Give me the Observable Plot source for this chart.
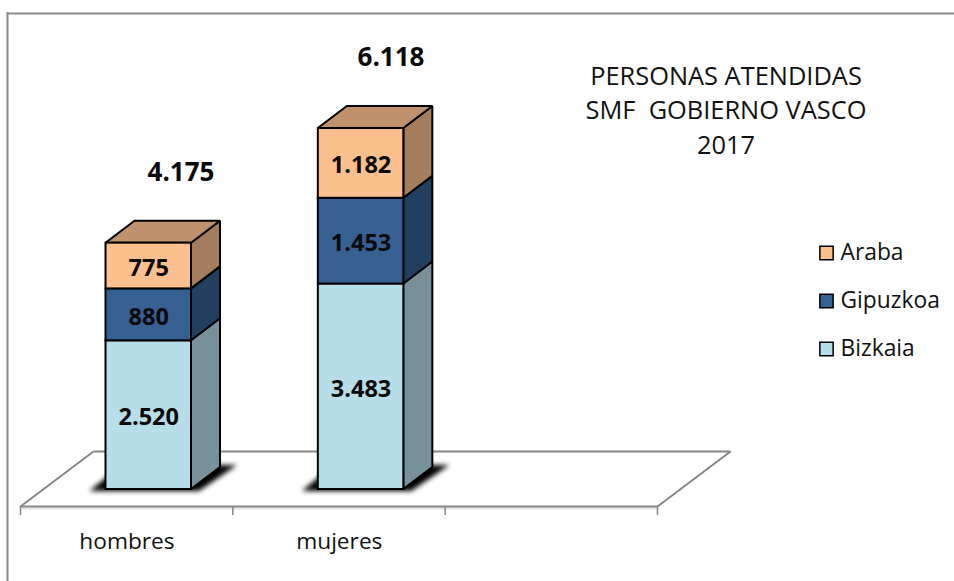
<!DOCTYPE html>
<html lang="es">
<head>
<meta charset="utf-8">
<style>html,body{margin:0;padding:0;background:#fff}svg{display:block}</style>
<script src="https://cdn.jsdelivr.net/npm/d3@7"></script>
<script src="https://cdn.jsdelivr.net/npm/@observablehq/plot@0.6"></script>
</head>
<body>
<div id="chart"></div>
<script>
// --- Data ---
const categories = ["hombres", "mujeres"];
const seriesNames = ["Bizkaia", "Gipuzkoa", "Araba"];
const bizkaia = [2520, 3483];
const gipuzkoa = [880, 1453];
const araba = [775, 1182];
const titleLines = ["PERSONAS ATENDIDAS", "SMF  GOBIERNO VASCO", "2017"];
const legendOrder = ["Araba", "Gipuzkoa", "Bizkaia"];

// --- Styles ---
const frontColors = ["#b7dde8", "#376092", "#fcc08f"];
const sideColors = ["#77909a", "#233f5f", "#a37d5d"];
const topColors = ["#bf926d"];
const font = "'Open Sans', sans-serif";

// --- Layout in scale units: category slots on x, persons on y ---
const width = 954, height = 581;
const slotPx = 212.33, unitPx = 0.059;
const xDomain = [-20 / slotPx, (width - 20) / slotPx];
const yDomain = [-(height - 489) / unitPx, 489 / unitPx];
const px = (p) => (p - 20) / slotPx;     // layout pixel → x units
const py = (p) => (489 - p) / unitPx;    // layout pixel → y units
const barLeft = px(105.5), barWidth = px(191) - px(105.5);
const depthX = 29 / slotPx, depthY = 22 / unitPx;
const floorSlots = 3;

const values = [bizkaia, gipuzkoa, araba];
const segments = [];
categories.forEach((c, i) => {
  let base = 0;
  values.forEach((v, s) => {
    segments.push({cat: c, i, s, series: seriesNames[s], value: v[i], y0: base, y1: base + v[i],
      x0: barLeft + i, x1: barLeft + i + barWidth});
    base += v[i];
  });
});
const totals = categories.map((c, i) => ({cat: c, i, total: d3.sum(values, (v) => v[i])}));
const fmt = d3.formatLocale({decimal: ",", thousands: ".", grouping: [3], currency: ["", "€"]}).format(",d");

// A quad as two rows for Plot.area
const quad = (id, color, a, b, c, d) => [
  {id, color, x1: a[0], y1: a[1], x2: d[0], y2: d[1]},
  {id, color, x1: b[0], y1: b[1], x2: c[0], y2: c[1]}
];
const sideFaces = segments.flatMap((d) => quad(`side-${d.i}-${d.s}`, sideColors[d.s],
  [d.x1, d.y0], [d.x1 + depthX, d.y0 + depthY], [d.x1 + depthX, d.y1 + depthY], [d.x1, d.y1]));
const topFaces = segments.filter((d) => d.s === values.length - 1).flatMap((d) => quad(`top-${d.i}`, topColors[0],
  [d.x0, d.y1], [d.x0 + depthX, d.y1 + depthY], [d.x1 + depthX, d.y1 + depthY], [d.x1, d.y1]));
const shadows = categories.flatMap((c, i) => quad(`shadow-${i}`, "#000",
  [barLeft + i - 16 / slotPx, py(491)], [barLeft + i + 16 / slotPx, py(465)],
  [barLeft + i + barWidth + 46 / slotPx, py(465)], [barLeft + i + barWidth + 8 / slotPx, py(491)]));

const floorFront = py(506), floorBack = py(451), tickEnd = py(515);
const floorOffset = px(93) - px(20);
const floorEdges = [
  {x1: 0, y1: floorFront, x2: floorSlots, y2: floorFront},
  {x1: floorOffset, y1: floorBack, x2: floorSlots + floorOffset, y2: floorBack},
  {x1: 0, y1: floorFront, x2: floorOffset, y2: floorBack},
  {x1: floorSlots, y1: floorFront, x2: floorSlots + floorOffset, y2: floorBack}
];
const tickPositions = d3.range(floorSlots + 1);

const titleRows = titleLines.map((t, i) => ({t, y: py([76, 110, 145][i])}));
const legendRows = legendOrder.map((name, i) => ({name, color: frontColors[seriesNames.indexOf(name)], y: py(252.5 + 48 * i)}));
const legendX = px(826), legendTextX = px(840), titleX = px(725.5);
const totalGap = 50 / unitPx, totalStep = 210 / slotPx;

const chart = Plot.plot({
  width, height,
  marginTop: 0, marginRight: 0, marginBottom: 0, marginLeft: 0,
  style: {background: "#fff", overflow: "visible"},
  x: {domain: xDomain, range: [0, width], axis: null},
  y: {domain: yDomain, range: [height, 0], axis: null},
  marks: [
    // outer frame (top and left edges visible)
    Plot.ruleY([py(13)], {x1: px(7), x2: px(954), stroke: "#8a8a8a", strokeWidth: 2}),
    Plot.ruleX([px(7)], {y1: py(12), y2: py(581), stroke: "#8a8a8a", strokeWidth: 2}),
    // floor
    Plot.ruleY([py(508)], {x1: 0, x2: floorSlots, stroke: "#e4e4e4", strokeWidth: 2}),
    Plot.link(floorEdges, {x1: "x1", y1: "y1", x2: "x2", y2: "y2", stroke: "#868686", strokeWidth: 2}),
    Plot.ruleX(tickPositions, {y1: floorFront, y2: tickEnd, stroke: "#868686", strokeWidth: 1.5}),
    // base shadows
    Plot.area(shadows, {x1: "x1", y1: "y1", x2: "x2", y2: "y2", z: "id", fill: "#000", imageFilter: "blur(2.5px)"}),
    // bars
    Plot.area(sideFaces, {x1: "x1", y1: "y1", x2: "x2", y2: "y2", z: "id",
      fill: {value: "color", scale: null}, stroke: "#000", strokeWidth: 2, strokeLinejoin: "miter"}),
    Plot.area(topFaces, {x1: "x1", y1: "y1", x2: "x2", y2: "y2", z: "id",
      fill: {value: "color", scale: null}, stroke: "#000", strokeWidth: 2, strokeLinejoin: "miter"}),
    Plot.rect(segments, {x1: "x0", x2: "x1", y1: "y0", y2: "y1",
      fill: {value: (d) => frontColors[d.s], scale: null}, stroke: "#000", strokeWidth: 2}),
    // value labels
    Plot.text(segments, {x: (d) => (d.x0 + d.x1) / 2, y: (d) => (d.y0 + d.y1) / 2, dy: 2.5, text: (d) => fmt(d.value),
      fontFamily: font, fontSize: 23.5, fontWeight: 700, fill: "#0a0a0a"}),
    // totals
    Plot.text(totals, {x: (d) => px(180.5) + d.i * totalStep, y: (d) => d.total + depthY + totalGap, dy: 1,
      text: (d) => fmt(d.total), fontFamily: font, fontSize: 26, fontWeight: 700, fill: "#0a0a0a"}),
    // axis labels
    Plot.text(categories, {x: (d, i) => i + px(126.5), y: py(541), text: (d) => d,
      fontFamily: font, fontSize: 22.7, fill: "#111"}),
    // title
    Plot.text(titleRows, {x: titleX, y: "y", text: "t", fontFamily: font, fontSize: 25.4, fill: "#111"}),
    // legend
    Plot.dot(legendRows, {x: legendX, y: "y", symbol: "square", r: 7.5,
      fill: {value: "color", scale: null}, stroke: "#000", strokeWidth: 1.5}),
    Plot.text(legendRows, {x: legendTextX, y: "y", text: "name", textAnchor: "start",
      fontFamily: font, fontSize: 22.8, fill: "#111"})
  ]
});
document.getElementById("chart").append(chart);
</script>
</body>
</html>
